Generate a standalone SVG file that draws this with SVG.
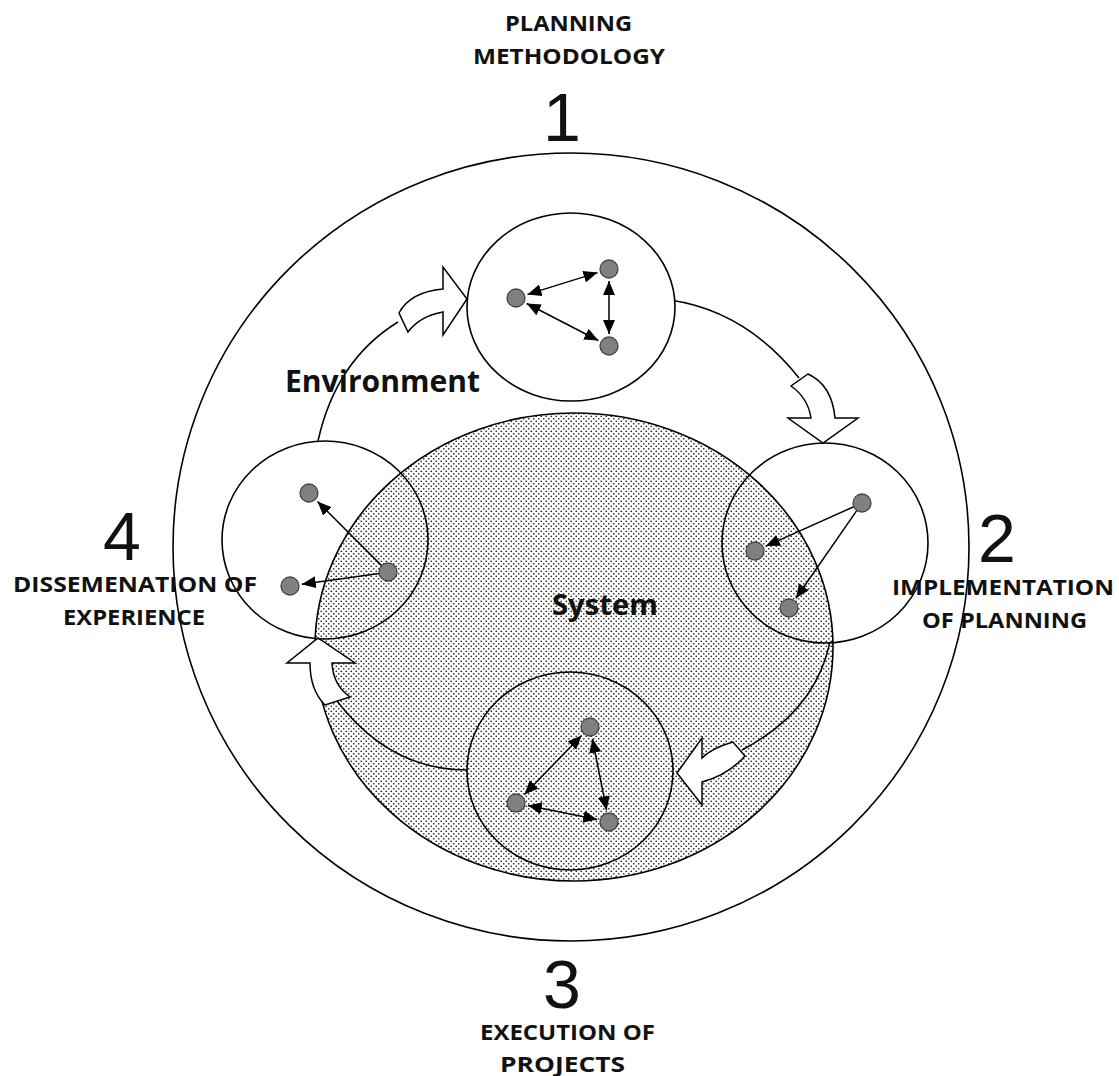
<svg xmlns="http://www.w3.org/2000/svg" width="1119" height="1076" viewBox="0 0 1119 1076">
<defs>
<pattern id="dots" width="5" height="5" patternUnits="userSpaceOnUse">
<rect width="5" height="5" fill="#ffffff"/>
<circle cx="1.25" cy="1.25" r="0.85" fill="#222"/>
<circle cx="3.75" cy="3.75" r="0.85" fill="#222"/>
</pattern>
<marker id="ah" markerUnits="userSpaceOnUse" markerWidth="15" markerHeight="13" refX="14" refY="6" orient="auto-start-reverse">
<path d="M0,0 L14,6 L0,12 Z" fill="#000"/>
</marker>
</defs>
<style>
.ring{fill:none;stroke:#000;stroke-width:1.6}
.node{fill:#808080;stroke:#444;stroke-width:1.3}
.link{stroke:#000;stroke-width:1.5;fill:none}
.one{marker-end:url(#ah)}
.two{marker-start:url(#ah);marker-end:url(#ah)}
.curve{fill:none;stroke:#000;stroke-width:1.5}
.block{fill:#fff;stroke:#000;stroke-width:1.5;stroke-linejoin:miter}
.lbl{font-family:"Open Sans","Noto Sans",sans-serif;font-weight:bold;font-size:22px;fill:#111}
.num{font-family:"Liberation Sans",Arial,sans-serif;font-size:68px;fill:#111;text-anchor:middle}
.big{font-family:"Open Sans","Noto Sans",sans-serif;font-weight:bold;fill:#111}
</style>
<rect width="1119" height="1076" fill="#fff"/>

<g id="environment">
<ellipse class="ring" cx="571" cy="547" rx="398" ry="394"/>
</g>
<g id="system">
<ellipse cx="574" cy="647" rx="259" ry="234" fill="url(#dots)" stroke="#000" stroke-width="1.6"/>
</g>

<g id="connectors">
<path class="curve" d="M318,441 Q336,360 398,322"/>
<path class="curve" d="M670,300 Q746,311 799,378"/>
<path class="curve" d="M830,642 Q815,712 742,750"/>
<path class="curve" d="M467,770 Q390,770 337,701"/>
<path class="block" d="M399,313 Q410,292 443,289 L443,267 L467,299 L443,335 L443,312 Q420,316 408,332 Z"/>
<path class="block" d="M791,386 Q808,398 811,418 L788,418 L823,443 L858,418 L835,418 Q832,385 808,374 Z"/>
<path class="block" d="M733,742 Q712,748 702,758 L702,738 L677,773 L702,805 L702,782 Q728,775 745,756 Z"/>
<path class="block" d="M310,663 L287,663 L318,638 L355,663 L332,663 Q333,685 350,697 L325,705 Q310,690 310,663 Z"/>
</g>

<g id="stage1">
<ellipse cx="571" cy="307" rx="104" ry="94" fill="#fff" stroke="#000" stroke-width="1.6"/>
<line class="link two" x1="527.5" y1="294.4" x2="597.5" y2="272.6"/>
<line class="link two" x1="526.7" y1="303.5" x2="598.3" y2="340.5"/>
<line class="link two" x1="609" y1="281" x2="609" y2="334"/>
<circle class="node" cx="516" cy="298" r="9"/>
<circle class="node" cx="609" cy="269" r="9"/>
<circle class="node" cx="609" cy="346" r="9"/>
</g>

<g id="stage2">
<ellipse class="ring" cx="825" cy="543" rx="103" ry="100"/>
<line class="link one" x1="853.8" y1="506.7" x2="765.9" y2="546.1"/>
<line class="link one" x1="856.9" y1="510.4" x2="795.9" y2="598.2"/>
<circle class="node" cx="862" cy="503" r="9"/>
<circle class="node" cx="755" cy="551" r="9"/>
<circle class="node" cx="789" cy="608" r="9"/>
</g>

<g id="stage3">
<ellipse class="ring" cx="570" cy="771" rx="103" ry="99"/>
<line class="link two" x1="581.6" y1="735.6" x2="524.4" y2="794.4"/>
<line class="link two" x1="592.4" y1="738.8" x2="606.6" y2="810.2"/>
<line class="link two" x1="527.8" y1="805.4" x2="597.2" y2="819.6"/>
<circle class="node" cx="590" cy="727" r="9"/>
<circle class="node" cx="516" cy="803" r="9"/>
<circle class="node" cx="609" cy="822" r="9"/>
</g>

<g id="stage4">
<ellipse class="ring" cx="325" cy="540" rx="103" ry="99"/>
<line class="link one" x1="381.6" y1="565.6" x2="317.5" y2="501.5"/>
<line class="link one" x1="379.1" y1="573.4" x2="301.8" y2="584.2"/>
<circle class="node" cx="388" cy="572" r="9"/>
<circle class="node" cx="309" cy="493" r="9"/>
<circle class="node" cx="290" cy="586" r="9"/>
</g>

<g id="labels">
<text class="lbl" x="505" y="31" textLength="127" lengthAdjust="spacingAndGlyphs">PLANNING</text>
<text class="lbl" x="473" y="64" textLength="192" lengthAdjust="spacingAndGlyphs">METHODOLOGY</text>
<text class="num" x="562" y="141">1</text>
<text class="num" x="997" y="562">2</text>
<text class="lbl" x="892" y="595" textLength="222" lengthAdjust="spacingAndGlyphs">IMPLEMENTATION</text>
<text class="lbl" x="922" y="628" textLength="165" lengthAdjust="spacingAndGlyphs">OF PLANNING</text>
<text class="num" x="562" y="1008">3</text>
<text class="lbl" x="480" y="1040" textLength="175" lengthAdjust="spacingAndGlyphs">EXECUTION OF</text>
<text class="lbl" x="500" y="1072" textLength="125" lengthAdjust="spacingAndGlyphs">PROJECTS</text>
<text class="num" x="122" y="560">4</text>
<text class="lbl" x="13" y="592" textLength="244" lengthAdjust="spacingAndGlyphs">DISSEMENATION OF</text>
<text class="lbl" x="63" y="625" textLength="142" lengthAdjust="spacingAndGlyphs">EXPERIENCE</text>
<text class="big" x="285" y="392" font-size="30" textLength="195" lengthAdjust="spacingAndGlyphs">Environment</text>
<text class="big" x="552" y="615" font-size="28" textLength="106" lengthAdjust="spacingAndGlyphs">System</text>
</g>
</svg>
